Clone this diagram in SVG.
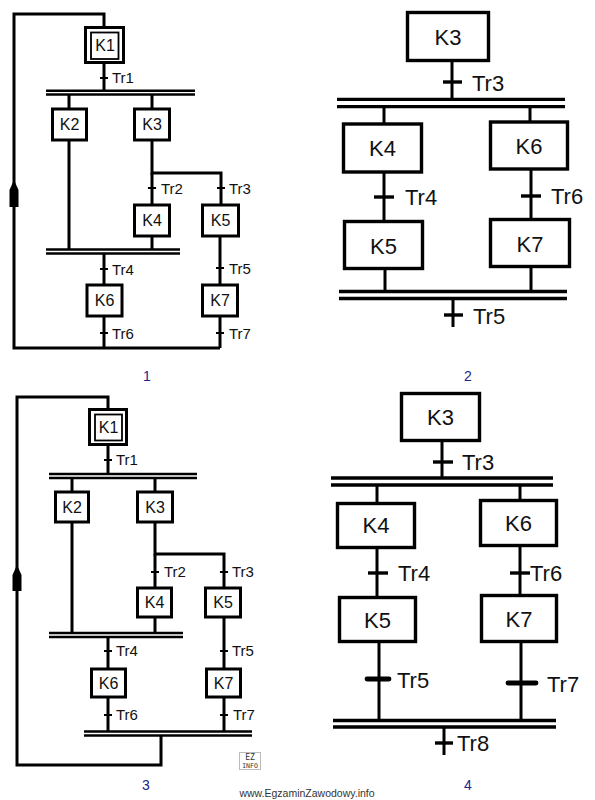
<svg xmlns="http://www.w3.org/2000/svg" width="595" height="800" viewBox="0 0 595 800">
<style>
.ln{fill:none;stroke:#000;stroke-width:3}
.bx{fill:#fff;stroke:#000;stroke-width:3}
.bxb{fill:#fff;stroke:#000;stroke-width:3.4}
.tk{stroke:#000;stroke-width:2}
.tkb{stroke:#000;stroke-width:3.4}
.tkh{stroke:#000;stroke-width:4.8;stroke-linecap:round}
.bar{stroke:#000;stroke-width:2.6}
.barb{stroke:#000;stroke-width:3.3}
.s{font-family:"Liberation Sans",Arial,sans-serif;font-size:16px;fill:#111}
.t{font-family:"Liberation Sans",Arial,sans-serif;font-size:15px;fill:#111}
.L{font-family:"Liberation Sans",Arial,sans-serif;font-size:22px;fill:#111}
.n{font-family:"Liberation Sans",Arial,sans-serif;font-size:14px;fill:#22228a;text-anchor:middle}
.c{text-anchor:middle}
</style>
<rect width="595" height="800" fill="#fff"/>

<!-- ================= DIAGRAM 1 ================= -->
<g id="d1-connectors">
  <path class="ln" d="M104,27 V14 H14 V348 H220"/>
  <polygon points="14,180 18.5,190 18.5,207 9.5,207 9.5,190" fill="#000"/>
  <line class="ln" x1="104" y1="62" x2="104" y2="90"/>
  <line class="tk" x1="100" y1="78" x2="108" y2="78"/>
  <line class="bar" x1="46" y1="90.7" x2="195" y2="90.7"/>
  <line class="bar" x1="46" y1="94.5" x2="195" y2="94.5"/>
  <line class="ln" x1="69" y1="95" x2="69" y2="109"/>
  <line class="ln" x1="152" y1="95" x2="152" y2="109"/>
  <line class="ln" x1="69" y1="140" x2="69" y2="249"/>
  <path class="ln" d="M152,140 V173 H221 V205"/>
  <line class="ln" x1="152" y1="173" x2="152" y2="205"/>
  <line class="tk" x1="148" y1="188" x2="156" y2="188"/>
  <line class="tk" x1="217" y1="188" x2="225" y2="188"/>
  <line class="ln" x1="152" y1="236" x2="152" y2="249"/>
  <line class="bar" x1="46" y1="249.5" x2="180" y2="249.5"/>
  <line class="bar" x1="46" y1="253.5" x2="180" y2="253.5"/>
  <line class="ln" x1="104" y1="254" x2="104" y2="285"/>
  <line class="tk" x1="100" y1="269" x2="108" y2="269"/>
  <line class="ln" x1="220" y1="236" x2="220" y2="285"/>
  <line class="tk" x1="216" y1="268" x2="224" y2="268"/>
  <line class="ln" x1="104" y1="316" x2="104" y2="348"/>
  <line class="tk" x1="100" y1="333" x2="108" y2="333"/>
  <line class="ln" x1="220" y1="316" x2="220" y2="348"/>
  <line class="tk" x1="216" y1="333" x2="224" y2="333"/>
  <text class="t" x="112" y="83">Tr1</text>
  <text class="t" x="161" y="194">Tr2</text>
  <text class="t" x="229" y="194">Tr3</text>
  <text class="t" x="112" y="275">Tr4</text>
  <text class="t" x="229" y="274">Tr5</text>
  <text class="t" x="112" y="339">Tr6</text>
  <text class="t" x="229" y="339">Tr7</text>
</g>
<g id="d1-K1">
  <rect class="bx" x="85.5" y="27.5" width="38" height="35" stroke-width="3.4"/>
  <rect x="91" y="32.5" width="27.5" height="26.5" fill="none" stroke="#000" stroke-width="1.8"/>
  <text class="s c" x="105" y="51">K1</text>
</g>
<g id="d1-K2"><rect class="bx" x="52.5" y="109" width="34" height="31"/><text class="s c" x="69.5" y="130">K2</text></g>
<g id="d1-K3"><rect class="bx" x="134.5" y="109" width="35" height="31"/><text class="s c" x="152" y="130">K3</text></g>
<g id="d1-K4"><rect class="bx" x="134.5" y="205" width="35" height="31"/><text class="s c" x="152" y="226">K4</text></g>
<g id="d1-K5"><rect class="bx" x="202.5" y="205" width="36" height="31"/><text class="s c" x="220.5" y="226">K5</text></g>
<g id="d1-K6"><rect class="bx" x="87" y="285" width="35" height="31"/><text class="s c" x="104.5" y="306">K6</text></g>
<g id="d1-K7"><rect class="bx" x="202.5" y="285" width="35" height="31"/><text class="s c" x="220" y="306">K7</text></g>
<text class="n" x="147" y="381">1</text>

<!-- ================= DIAGRAM 2 ================= -->
<g id="d2-connectors">
  <line class="ln" x1="452" y1="60" x2="452" y2="99"/>
  <line class="tkb" x1="443" y1="82" x2="462" y2="82"/>
  <line class="barb" x1="337" y1="99.3" x2="565" y2="99.3"/>
  <line class="barb" x1="337" y1="106.7" x2="565" y2="106.7"/>
  <line class="ln" x1="384" y1="107" x2="384" y2="124"/>
  <line class="ln" x1="530" y1="107" x2="530" y2="122"/>
  <line class="ln" x1="384" y1="172" x2="384" y2="222"/>
  <line class="tkb" x1="374" y1="197" x2="394" y2="197"/>
  <line class="ln" x1="531" y1="169" x2="531" y2="220"/>
  <line class="tkb" x1="521" y1="196" x2="541" y2="196"/>
  <line class="ln" x1="385" y1="268" x2="385" y2="291"/>
  <line class="ln" x1="531" y1="266" x2="531" y2="291"/>
  <line class="barb" x1="339" y1="291.5" x2="567" y2="291.5"/>
  <line class="barb" x1="339" y1="298.5" x2="567" y2="298.5"/>
  <line class="ln" x1="453" y1="299" x2="453" y2="327"/>
  <line class="tkb" x1="444" y1="315" x2="463" y2="315"/>
  <text class="L" x="472" y="91">Tr3</text>
  <text class="L" x="405" y="205">Tr4</text>
  <text class="L" x="551" y="204">Tr6</text>
  <text class="L" x="473" y="324">Tr5</text>
</g>
<g id="d2-K3"><rect class="bxb" x="407.5" y="12.5" width="81" height="48"/><text class="L c" x="448" y="44.5">K3</text></g>
<g id="d2-K4"><rect class="bxb" x="343.5" y="124" width="78" height="48"/><text class="L c" x="382.5" y="156">K4</text></g>
<g id="d2-K6"><rect class="bxb" x="490.5" y="122" width="77" height="47"/><text class="L c" x="529" y="154">K6</text></g>
<g id="d2-K5"><rect class="bxb" x="344.5" y="221.5" width="78" height="47"/><text class="L c" x="383.5" y="253.5">K5</text></g>
<g id="d2-K7"><rect class="bxb" x="490.5" y="219.5" width="79" height="47"/><text class="L c" x="530" y="251.5">K7</text></g>
<text class="n" x="468" y="381">2</text>

<!-- ================= DIAGRAM 3 ================= -->
<g id="d3-connectors">
  <path class="ln" d="M108,409 V397 H17 V765 H161 V735"/>
  <polygon points="17,565 21.5,575 21.5,591 12.5,591 12.5,575" fill="#000"/>
  <line class="ln" x1="108" y1="444" x2="108" y2="474"/>
  <line class="tk" x1="104" y1="460" x2="112" y2="460"/>
  <line class="bar" x1="49" y1="474" x2="197" y2="474"/>
  <line class="bar" x1="49" y1="478" x2="197" y2="478"/>
  <line class="ln" x1="72" y1="478" x2="72" y2="492"/>
  <line class="ln" x1="155" y1="478" x2="155" y2="492"/>
  <line class="ln" x1="72" y1="522" x2="72" y2="633"/>
  <path class="ln" d="M155,522 V554 H224 V588"/>
  <line class="ln" x1="155" y1="554" x2="155" y2="588"/>
  <line class="tk" x1="151" y1="572" x2="159" y2="572"/>
  <line class="tk" x1="220" y1="572" x2="228" y2="572"/>
  <line class="ln" x1="155" y1="617" x2="155" y2="633"/>
  <line class="bar" x1="49" y1="633" x2="183" y2="633"/>
  <line class="bar" x1="49" y1="637" x2="183" y2="637"/>
  <line class="ln" x1="108" y1="637" x2="108" y2="669"/>
  <line class="tk" x1="104" y1="651" x2="112" y2="651"/>
  <line class="ln" x1="224" y1="617" x2="224" y2="669"/>
  <line class="tk" x1="220" y1="651" x2="228" y2="651"/>
  <line class="ln" x1="108" y1="697" x2="108" y2="731"/>
  <line class="tk" x1="104" y1="715" x2="112" y2="715"/>
  <line class="ln" x1="224" y1="697" x2="224" y2="731"/>
  <line class="tk" x1="220" y1="715" x2="228" y2="715"/>
  <line class="bar" x1="84" y1="731.5" x2="252" y2="731.5"/>
  <line class="bar" x1="84" y1="735.5" x2="252" y2="735.5"/>
  <text class="t" x="116" y="465">Tr1</text>
  <text class="t" x="164" y="577">Tr2</text>
  <text class="t" x="232" y="577">Tr3</text>
  <text class="t" x="116" y="656">Tr4</text>
  <text class="t" x="232" y="656">Tr5</text>
  <text class="t" x="116" y="720">Tr6</text>
  <text class="t" x="233" y="720">Tr7</text>
</g>
<g id="d3-K1">
  <rect class="bx" x="89.5" y="409.5" width="37" height="35" stroke-width="3.4"/>
  <rect x="95" y="414.5" width="27" height="26" fill="none" stroke="#000" stroke-width="1.8"/>
  <text class="s c" x="108.5" y="433">K1</text>
</g>
<g id="d3-K2"><rect class="bx" x="55.5" y="492" width="33" height="30"/><text class="s c" x="72" y="513">K2</text></g>
<g id="d3-K3"><rect class="bx" x="137.5" y="492" width="35" height="30"/><text class="s c" x="155" y="513">K3</text></g>
<g id="d3-K4"><rect class="bx" x="137.5" y="588" width="34" height="29"/><text class="s c" x="154.5" y="608">K4</text></g>
<g id="d3-K5"><rect class="bx" x="205.5" y="588" width="35" height="29"/><text class="s c" x="223" y="608">K5</text></g>
<g id="d3-K6"><rect class="bx" x="91.5" y="669" width="34" height="28"/><text class="s c" x="108.5" y="688.5">K6</text></g>
<g id="d3-K7"><rect class="bx" x="206.5" y="669" width="34" height="28"/><text class="s c" x="223.5" y="688.5">K7</text></g>
<text class="n" x="146" y="790">3</text>

<!-- ================= DIAGRAM 4 ================= -->
<g id="d4-connectors">
  <line class="ln" x1="442" y1="440" x2="442" y2="478"/>
  <line class="tkb" x1="433" y1="462" x2="453" y2="462"/>
  <line class="barb" x1="331" y1="478" x2="553" y2="478"/>
  <line class="barb" x1="331" y1="485" x2="553" y2="485"/>
  <line class="ln" x1="377" y1="485" x2="377" y2="504"/>
  <line class="ln" x1="520" y1="485" x2="520" y2="501"/>
  <line class="ln" x1="377" y1="547" x2="377" y2="598"/>
  <line class="tkb" x1="368" y1="573" x2="388" y2="573"/>
  <line class="ln" x1="520" y1="545" x2="520" y2="596"/>
  <line class="tkb" x1="510" y1="573" x2="530" y2="573"/>
  <line class="ln" x1="379" y1="641" x2="379" y2="721"/>
  <line class="tkh" x1="367" y1="679" x2="389" y2="679"/>
  <line class="ln" x1="521" y1="641" x2="521" y2="721"/>
  <line class="tkh" x1="508" y1="683" x2="536" y2="683"/>
  <line class="barb" x1="333" y1="720.5" x2="556" y2="720.5"/>
  <line class="barb" x1="333" y1="727" x2="556" y2="727"/>
  <line class="ln" x1="444" y1="727" x2="444" y2="755"/>
  <line class="tkb" x1="435" y1="743" x2="453" y2="743"/>
  <text class="L" x="462" y="470">Tr3</text>
  <text class="L" x="398" y="581">Tr4</text>
  <text class="L" x="530" y="581">Tr6</text>
  <text class="L" x="397" y="688">Tr5</text>
  <text class="L" x="547" y="692" font-size="24">Tr7</text>
  <text class="L" x="457" y="751" font-size="20">Tr8</text>
</g>
<g id="d4-K3"><rect class="bxb" x="401.5" y="393.5" width="78" height="47"/><text class="L c" x="440.5" y="424.5">K3</text></g>
<g id="d4-K4"><rect class="bxb" x="337.5" y="503.5" width="77" height="44"/><text class="L c" x="376" y="533">K4</text></g>
<g id="d4-K6"><rect class="bxb" x="480.5" y="500.5" width="76" height="45"/><text class="L c" x="518.5" y="531">K6</text></g>
<g id="d4-K5"><rect class="bxb" x="339.5" y="597.5" width="76" height="44"/><text class="L c" x="377.5" y="627.5">K5</text></g>
<g id="d4-K7"><rect class="bxb" x="481.5" y="595.5" width="75" height="46"/><text class="L c" x="519" y="626.5">K7</text></g>
<text class="n" x="468" y="790">4</text>

<!-- watermark -->
<g id="watermark">
  <rect x="239.5" y="752.5" width="21" height="17" fill="none" stroke="#555" stroke-width="0.8" stroke-dasharray="1,1"/>
  <text x="250" y="760" font-family="'DejaVu Sans Mono',monospace" font-size="8" fill="#333" text-anchor="middle">EZ</text>
  <text x="250" y="768" font-family="'DejaVu Sans Mono',monospace" font-size="6.5" fill="#333" text-anchor="middle">INFO</text>
  <text x="307" y="797" font-family="'Liberation Sans',Arial,sans-serif" font-size="10.5" fill="#333" text-anchor="middle">www.EgzaminZawodowy.info</text>
</g>
</svg>
